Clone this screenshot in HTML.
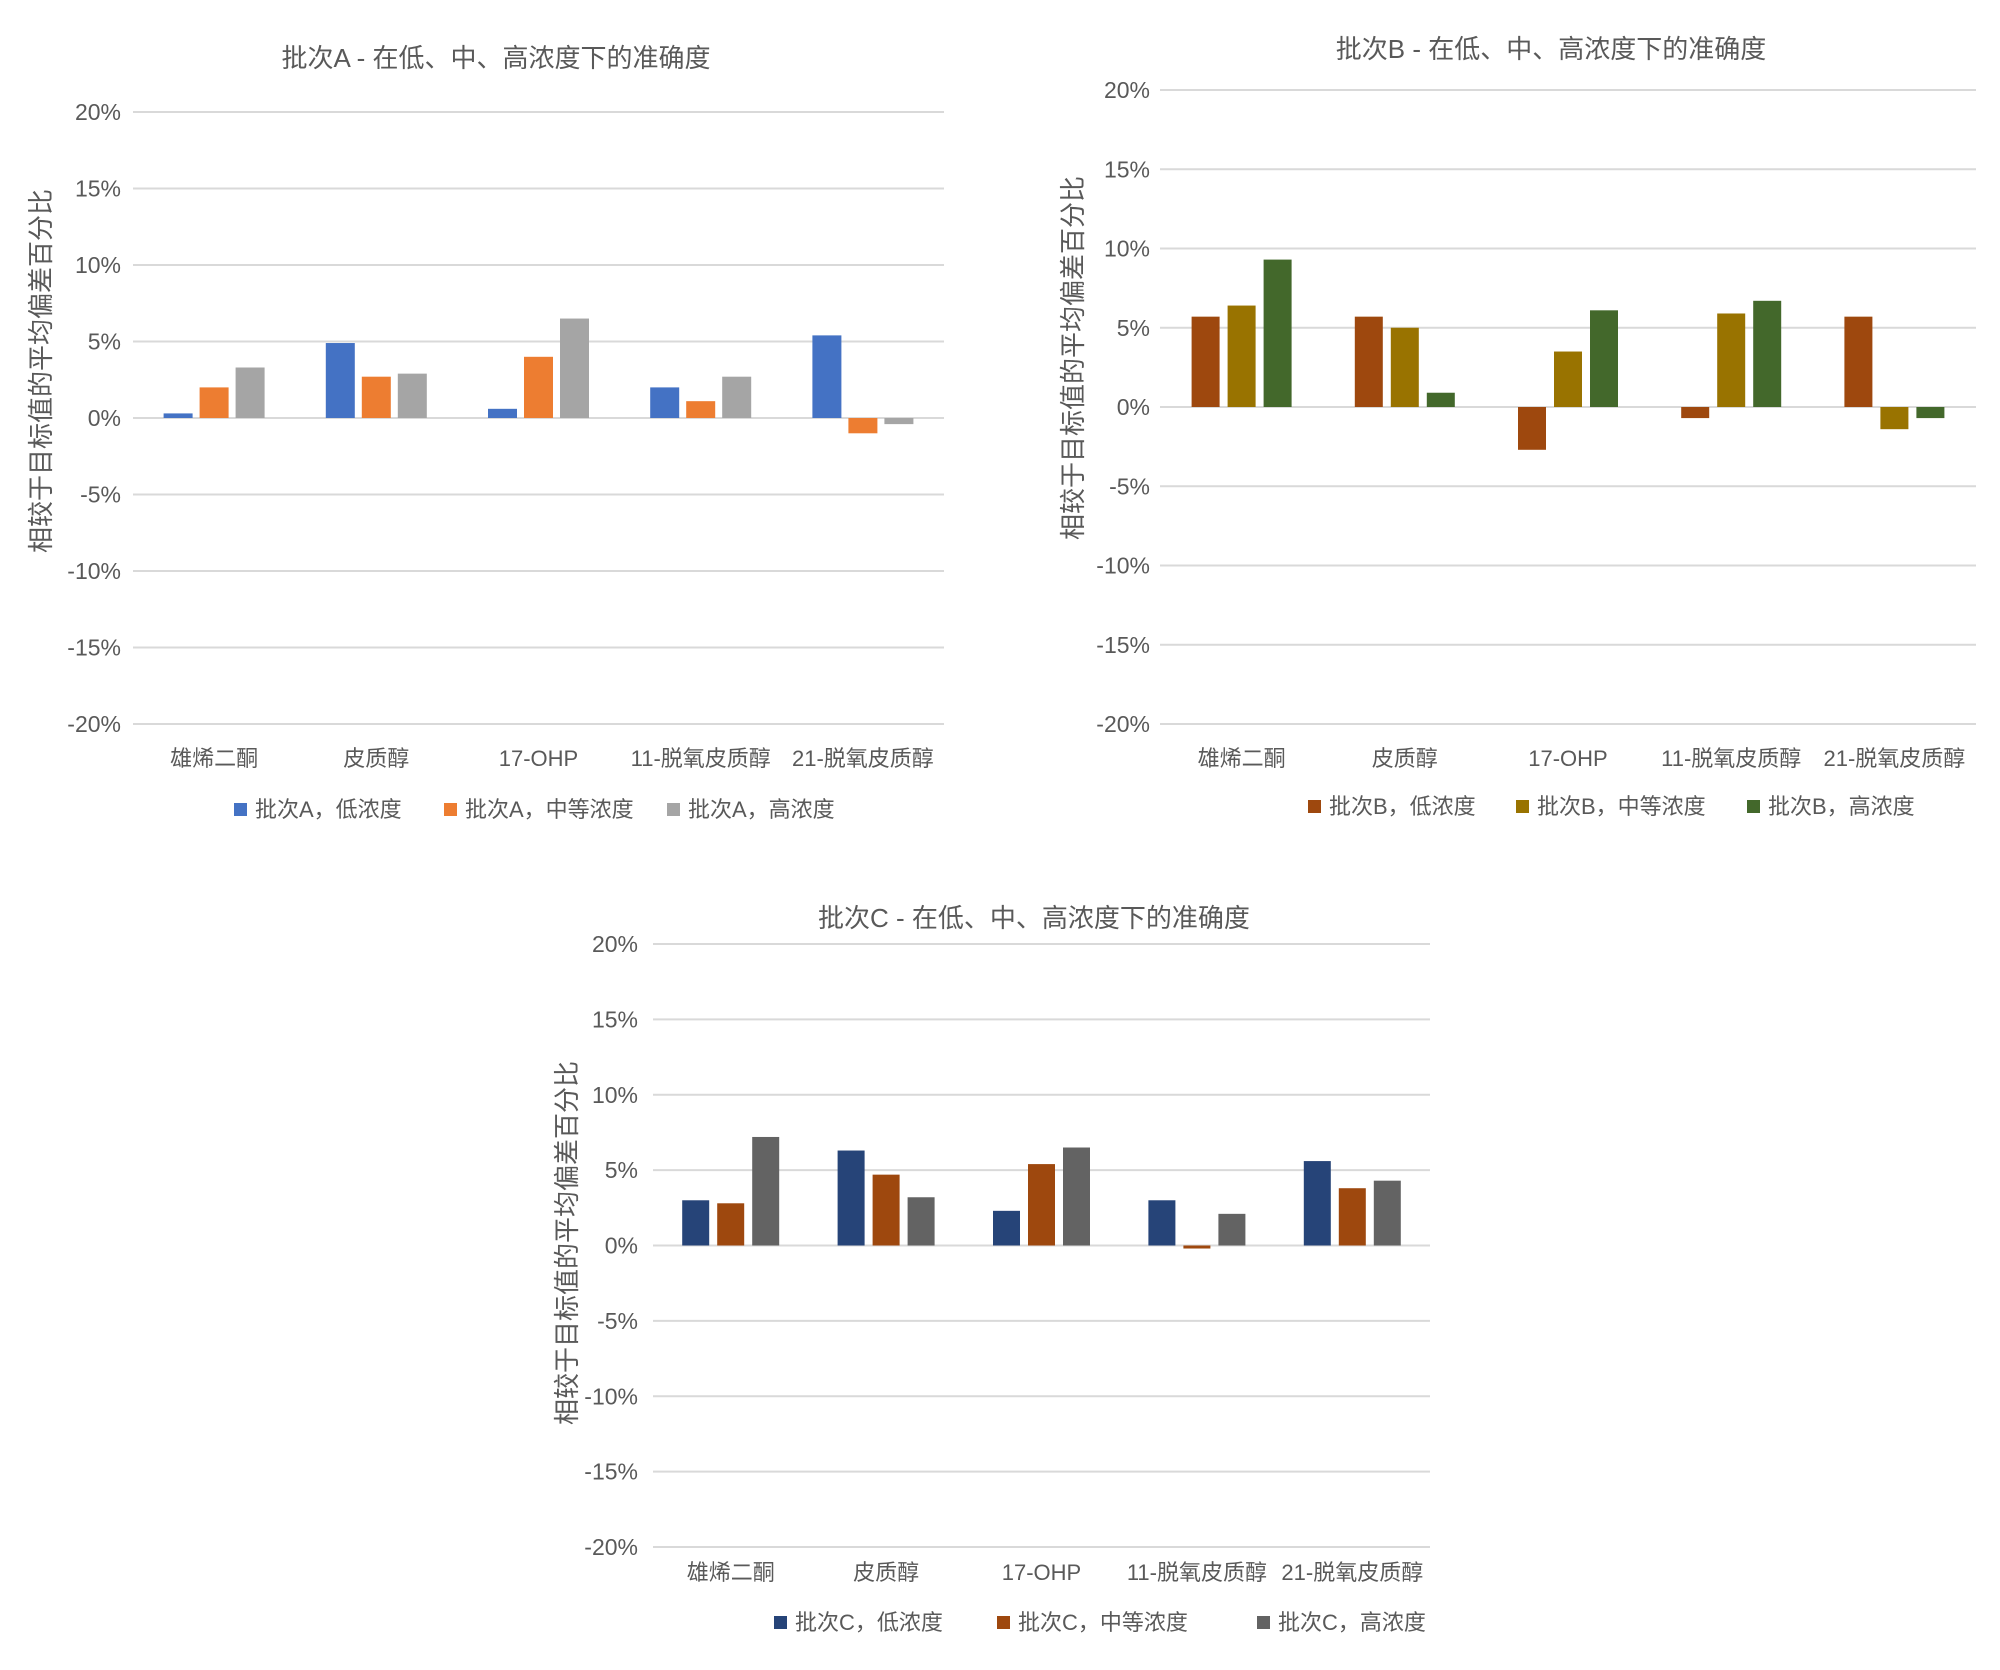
<!DOCTYPE html>
<html><head><meta charset="utf-8"><style>
html,body{margin:0;padding:0;background:#fff;}
svg{display:block;font-family:"Liberation Sans","Noto Sans CJK SC",sans-serif;}
</style></head><body>
<svg id="c" width="2000" height="1670" viewBox="0 0 2000 1670"></svg>
<script>
const categories = ["雄烯二酮","皮质醇","17-OHP","11-脱氧皮质醇","21-脱氧皮质醇"];
const ticks = [20,15,10,5,0,-5,-10,-15,-20];
const aLow = [0.3,4.9,0.6,2.0,5.4];
const aMid = [2.0,2.7,4.0,1.1,-1.0];
const aHigh = [3.3,2.9,6.5,2.7,-0.4];
const bLow = [5.7,5.7,-2.7,-0.7,5.7];
const bMid = [6.4,5.0,3.5,5.9,-1.4];
const bHigh = [9.3,0.9,6.1,6.7,-0.7];
const cLow = [3.0,6.3,2.3,3.0,5.6];
const cMid = [2.8,4.7,5.4,-0.2,3.8];
const cHigh = [7.2,3.2,6.5,2.1,4.3];
const seriesNamesA = ["批次A，低浓度","批次A，中等浓度","批次A，高浓度"];
const seriesNamesB = ["批次B，低浓度","批次B，中等浓度","批次B，高浓度"];
const seriesNamesC = ["批次C，低浓度","批次C，中等浓度","批次C，高浓度"];

const NS="http://www.w3.org/2000/svg";
const svg=document.getElementById('c');
function mk(tag,attrs,parent){const e=document.createElementNS(NS,tag);for(const k in attrs)e.setAttribute(k,attrs[k]);(parent||svg).appendChild(e);return e;}

function chart(cfg){
  const g=mk('g',{});
  
  
  const y=v=>cfg.y0+(20-v)/40*(cfg.y1-cfg.y0);
  const cw=(cfg.x1-cfg.x0)/categories.length;
  const x=i=>cfg.x0+cw*(i+0.5);
  ticks.forEach(t=>{
    const l=mk('line',{x1:cfg.x0,x2:cfg.x1,y1:y(t),y2:y(t),stroke:'#d9d9d9','stroke-width':2},g);
    
    
    const tx=mk('text',{x:cfg.lx,y:y(t)+8,'text-anchor':'end','font-size':23,fill:'#595959'},g);
    tx.textContent=t+'%';
    
    
  });
  cfg.series.forEach((s,si)=>{
    s.forEach((v,i)=>{
      const cx=x(i)+(si-1)*cfg.sp;
      const top=Math.min(y(v),y(0)),h=Math.abs(y(v)-y(0));
      const r=mk('rect',{x:cx-cfg.bw/2,y:top,width:cfg.bw,height:h,fill:cfg.colors[si]},g);
      
      
    });
  });
  categories.forEach((c,i)=>{
    const t=mk('text',{x:x(i),y:cfg.catY,'text-anchor':'middle','font-size':22,fill:'#595959'},g);
    t.textContent=c;
    
    
  });
  const ti=mk('text',{x:cfg.tx,y:cfg.ty,'text-anchor':'middle','font-size':26,fill:'#595959'},g);
  ti.textContent=cfg.title;
  
  
  const at=mk('text',{x:0,y:0,'text-anchor':'middle','font-size':26,fill:'#595959',transform:`translate(${cfg.ax},${cfg.ay}) rotate(-90)`},g);
  at.textContent='相较于目标值的平均偏差百分比';
  
  
  cfg.names.forEach((n,si)=>{
    const sq=mk('rect',{x:cfg.legX[si],y:cfg.legY-6,width:13,height:13,fill:cfg.colors[si]},g);
    
    
    const lt=mk('text',{x:cfg.legX[si]+21,y:cfg.legY+8,'font-size':22,fill:'#595959'},g);
    lt.textContent=n;
    
    
  });
}
chart({id:'chart-batch-a',tag:'a',x0:133,x1:944,y0:112,y1:724,lx:121,catY:766,tx:496,ty:67,ax:50,ay:371,bw:29,sp:36,
  series:[aLow,aMid,aHigh],colors:['#4472C4','#ED7D31','#A5A5A5'],names:seriesNamesA,title:'批次A - 在低、中、高浓度下的准确度',
  legX:[234,444,667],legY:809});
chart({id:'chart-batch-b',tag:'b',x0:1160,x1:1976,y0:90,y1:724,lx:1150,catY:766,tx:1551,ty:58,ax:1082,ay:358,bw:28,sp:36,
  series:[bLow,bMid,bHigh],colors:['#9E480E','#997300','#43682B'],names:seriesNamesB,title:'批次B - 在低、中、高浓度下的准确度',
  legX:[1308,1516,1747],legY:806});
chart({id:'chart-batch-c',tag:'c',x0:653,x1:1430,y0:944,y1:1547,lx:638,catY:1580,tx:1034,ty:927,ax:576,ay:1243,bw:27,sp:35,
  series:[cLow,cMid,cHigh],colors:['#264478','#9E480E','#636363'],names:seriesNamesC,title:'批次C - 在低、中、高浓度下的准确度',
  legX:[774,997,1257],legY:1622});
</script>
</body></html>
